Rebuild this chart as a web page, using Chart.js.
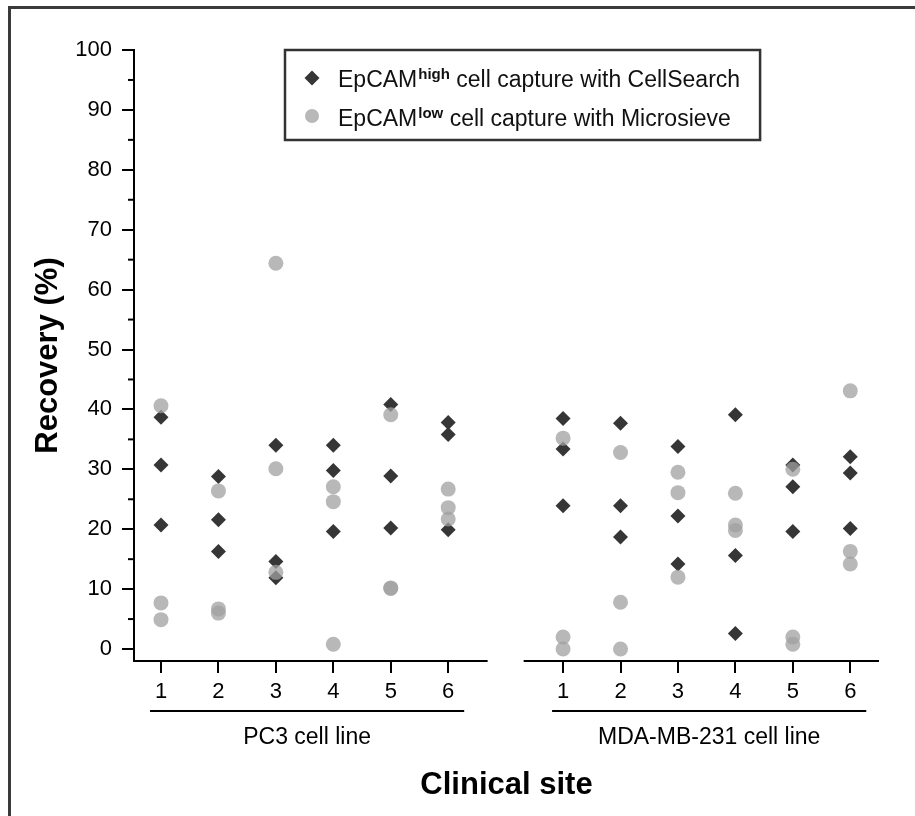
<!DOCTYPE html>
<html>
<head>
<meta charset="utf-8">
<script src="https://cdn.jsdelivr.net/npm/chart.js@4/dist/chart.umd.min.js"></script>
<style>
  html, body { margin: 0; padding: 0; background: #fff; }
  #wrap { position: relative; width: 915px; height: 816px; }
  #frame { position: absolute; left: 8px; top: 6px; right: 0; bottom: 0;
    border-left: 3px solid #3a3a3a; border-top: 3px solid #3a3a3a; }
  canvas { position: absolute; left: 0; top: 0; }
</style>
</head>
<body>
<div id="wrap">
  <div id="frame"></div>
  <canvas id="myChart" width="915" height="816"></canvas>
</div>
<script>
// Sites et lignées cellulaires
const sites = [1, 2, 3, 4, 5, 6];
const cellLines = ["PC3 cell line", "MDA-MB-231 cell line"];
const yTicks = [0, 10, 20, 30, 40, 50, 60, 70, 80, 90, 100];

// Recovery (%) : 3 valeurs par site
const cellSearchPC3 = [
  [38.7, 30.7, 20.7], [28.8, 21.6, 16.3], [34.0, 14.6, 11.9],
  [34.0, 29.8, 19.6], [40.8, 28.9, 20.2], [37.8, 35.8, 19.9],
];
const microsievePC3 = [
  [40.6, 7.7, 4.9], [26.4, 6.7, 6.0], [64.4, 30.1, 12.8],
  [27.1, 24.6, 0.8], [39.1, 10.2, 10.1], [26.7, 23.6, 21.7],
];
const cellSearchMDA = [
  [38.5, 33.4, 23.9], [37.7, 23.9, 18.7], [33.8, 22.2, 14.2],
  [39.1, 15.6, 2.6], [30.7, 27.1, 19.6], [32.1, 29.4, 20.1],
];
const microsieveMDA = [
  [35.2, 2.0, 0.0], [32.8, 7.8, 0.0], [29.5, 26.1, 12.0],
  [26.0, 20.7, 19.8], [30.0, 2.0, 0.8], [43.1, 16.3, 14.2],
];

const FONT = "Arial, 'Liberation Sans', sans-serif";
Chart.defaults.font.family = FONT;
Chart.defaults.color = "#000";

// position x d'un site : les deux lignées séparées par un site vide
const siteX = (g, s) => g * 7 + s;

function toPoints(groups) {
  const pts = [];
  groups.forEach((perSite, g) => {
    perSite.forEach((vals, i) => {
      vals.forEach((v) => pts.push({ x: siteX(g, sites[i]), y: v }));
    });
  });
  return pts;
}

function line(ctx, x1, y1, x2, y2) {
  ctx.beginPath();
  ctx.moveTo(x1, y1);
  ctx.lineTo(x2, y2);
  ctx.stroke();
}

// axe x coupé, petites graduations, soulignés des lignées, légende
const decor = {
  id: "decor",
  afterDraw(chart) {
    const { ctx, scales: { x, y } } = chart;
    const bottom = chart.chartArea.bottom;
    ctx.save();
    ctx.strokeStyle = "#000";
    ctx.lineWidth = 2;

    for (let v = 5; v < 100; v += 10) {
      const py = y.getPixelForValue(v);
      line(ctx, x.left - 6, py, x.left, py);
    }

    const mid = (x.getPixelForValue(siteX(0, 6)) + x.getPixelForValue(siteX(1, 1))) / 2;
    line(ctx, x.left - 1, bottom, mid - 18, bottom);
    line(ctx, mid + 18, bottom, x.right, bottom);

    ctx.font = `23px ${FONT}`;
    ctx.fillStyle = "#000";
    ctx.textAlign = "center";
    ctx.textBaseline = "middle";
    cellLines.forEach((name, g) => {
      const a = x.getPixelForValue(siteX(g, sites[0])) - 11;
      const b = x.getPixelForValue(siteX(g, sites[sites.length - 1])) + 16;
      line(ctx, a, bottom + 50, b, bottom + 50);
      ctx.fillText(name, (a + b) / 2, bottom + 77);
    });

    // légende
    ctx.textAlign = "left";
    ctx.textBaseline = "alphabetic";
    const row = (px, py, base, sup, rest) => {
      ctx.font = `23px ${FONT}`;
      ctx.fillText(base, px, py);
      let cx = px + ctx.measureText(base).width + 1;
      ctx.font = `bold 15px ${FONT}`;
      ctx.fillText(sup, cx, py - 8);
      cx += ctx.measureText(sup).width;
      ctx.font = `23px ${FONT}`;
      ctx.fillText(rest, cx, py);
      return cx + ctx.measureText(rest).width;
    };
    const boxL = 285, boxT = 50, boxB = 140;
    ctx.fillStyle = "#111";
    const end1 = row(338, 87, "EpCAM", "high", " cell capture with CellSearch");
    const end2 = row(338, 126, "EpCAM", "low", " cell capture with Microsieve");
    const boxR = Math.max(end1, end2) + 20;
    ctx.strokeStyle = "#333";
    ctx.lineWidth = 2.5;
    ctx.strokeRect(boxL, boxT, boxR - boxL, boxB - boxT);

    ctx.fillStyle = "#363636";
    ctx.beginPath();
    ctx.moveTo(312, 78 - 7.5);
    ctx.lineTo(312 + 7.5, 78);
    ctx.lineTo(312, 78 + 7.5);
    ctx.lineTo(312 - 7.5, 78);
    ctx.closePath();
    ctx.fill();
    ctx.fillStyle = "rgba(160,160,160,0.75)";
    ctx.beginPath();
    ctx.arc(312, 116, 7, 0, Math.PI * 2);
    ctx.fill();
    ctx.restore();
  },
};

const ctx = document.getElementById("myChart").getContext("2d");
new Chart(ctx, {
  type: "scatter",
  data: {
    datasets: [
      {
        label: "EpCAM low cell capture with Microsieve",
        data: toPoints([microsievePC3, microsieveMDA]),
        pointStyle: "circle",
        pointRadius: 7.5,
        pointBorderWidth: 0,
        backgroundColor: "rgba(160,160,160,0.75)",
        borderColor: "rgba(160,160,160,0.75)",
        order: 0,
      },
      {
        label: "EpCAM high cell capture with CellSearch",
        data: toPoints([cellSearchPC3, cellSearchMDA]),
        pointStyle: "rectRot",
        pointRadius: 7.5,
        pointBorderWidth: 0,
        backgroundColor: "#363636",
        borderColor: "#363636",
        order: 1,
      },
    ],
  },
  options: {
    responsive: false,
    animation: false,
    layout: { padding: { left: 0, top: 50, right: 36, bottom: 0 } },
    scales: {
      x: {
        type: "linear",
        min: 0.53,
        max: 13.5,
        afterFit: (s) => { s.height = 155; },
        afterBuildTicks: (s) => {
          s.ticks = cellLines.flatMap((_, g) => sites.map((st) => ({ value: siteX(g, st) })));
        },
        ticks: {
          font: { size: 22 },
          padding: 6,
          maxRotation: 0,
          autoSkip: false,
          callback: (v) => String(((v - 1) % 7) + 1),
        },
        grid: { drawOnChartArea: false, tickLength: 12, color: "#000", lineWidth: 2 },
        border: { display: false },
        title: {
          display: true,
          text: "Clinical site",
          font: { size: 31, weight: "bold" },
          padding: { top: 0, bottom: 12 },
        },
      },
      y: {
        min: -2,
        max: 100,
        afterFit: (s) => { s.width = 134; },
        afterBuildTicks: (s) => { s.ticks = yTicks.map((v) => ({ value: v })); },
        ticks: { font: { size: 22 }, padding: 10 },
        grid: { drawOnChartArea: false, tickLength: 12, color: "#000", lineWidth: 2 },
        border: { display: true, color: "#000", width: 2 },
        title: {
          display: true,
          text: "Recovery (%)",
          font: { size: 31, weight: "bold" },
          padding: { top: 30, bottom: 0 },
        },
      },
    },
    plugins: {
      legend: { display: false },
      tooltip: { enabled: false },
    },
  },
  plugins: [decor],
});
</script>
</body>
</html>
